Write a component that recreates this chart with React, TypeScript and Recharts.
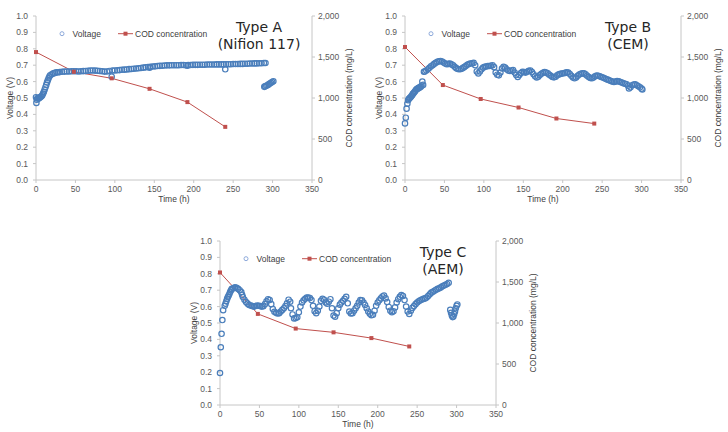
import React from 'react';
import { ComposedChart, Scatter, Line, XAxis, YAxis } from 'recharts';

// axis ticks
const timeTicks = [0, 50, 100, 150, 200, 250, 300, 350];
const voltageTicks = [0, 0.1, 0.2, 0.3, 0.4, 0.5, 0.6, 0.7, 0.8, 0.9, 1.0];
const codTicks = [0, 500, 1000, 1500, 2000];

// COD sampling times (h) and concentrations (mg/L)
const codTimes = [0, 48, 96, 144, 192, 240];
const codA = [1560, 1320, 1240, 1112, 950, 648];
const codB = [1622, 1158, 988, 884, 750, 688];
const codC = [1616, 1111, 932, 886, 816, 714];

// voltage readings [time (h), voltage (V)]
const voltageA: [number, number][] = [
  [0, 0.505], [0.5, 0.47], [1, 0.49], [2, 0.5], [3, 0.495], [4, 0.5], [5, 0.503], [6, 0.507],
  [7, 0.51], [8, 0.517], [9, 0.527], [10, 0.538], [11, 0.552], [12, 0.566], [13, 0.58],
  [14, 0.595], [15, 0.608], [16, 0.62], [17, 0.631], [18, 0.639], [20, 0.645], [22, 0.65],
  [24, 0.653], [26, 0.656], [28, 0.657], [30, 0.658], [33, 0.66], [36, 0.661], [39, 0.662],
  [42, 0.662], [45, 0.663], [48, 0.663], [51, 0.663], [54, 0.662], [57, 0.663], [60, 0.664],
  [63, 0.665], [66, 0.666], [69, 0.668], [72, 0.668], [75, 0.667], [78, 0.666], [81, 0.665],
  [84, 0.663], [87, 0.661], [90, 0.662], [93, 0.665], [96, 0.63], [97, 0.667], [100, 0.668],
  [103, 0.669], [106, 0.67], [109, 0.672], [112, 0.673], [115, 0.674], [118, 0.676],
  [121, 0.677], [124, 0.678], [127, 0.68], [130, 0.681], [133, 0.683], [136, 0.685],
  [139, 0.687], [142, 0.689], [144, 0.685], [145, 0.69], [148, 0.692], [151, 0.693],
  [154, 0.695], [157, 0.696], [160, 0.697], [163, 0.698], [166, 0.699], [169, 0.699],
  [172, 0.7], [175, 0.7], [178, 0.7], [181, 0.7], [184, 0.701], [187, 0.701], [190, 0.7],
  [192, 0.697], [193, 0.701], [196, 0.701], [199, 0.702], [202, 0.702], [205, 0.702],
  [208, 0.703], [211, 0.703], [214, 0.703], [217, 0.704], [220, 0.704], [223, 0.704],
  [226, 0.704], [229, 0.705], [232, 0.705], [235, 0.705], [238, 0.705], [240, 0.675],
  [241, 0.706], [244, 0.706], [247, 0.706], [250, 0.707], [253, 0.707], [256, 0.707],
  [259, 0.708], [262, 0.708], [265, 0.709], [268, 0.709], [271, 0.71], [274, 0.71],
  [277, 0.711], [280, 0.711], [283, 0.712], [286, 0.712], [289, 0.713], [291, 0.713],
  [289.5, 0.568], [290.5, 0.571], [292, 0.574], [293.5, 0.578], [295, 0.583], [296.5, 0.588],
  [298, 0.593], [299.5, 0.598], [301, 0.602],
];

const voltageB: [number, number][] = [
  [0, 0.345], [1, 0.38], [2, 0.435], [3, 0.465], [4, 0.487], [5, 0.495], [6, 0.5], [7, 0.505],
  [8, 0.51], [9, 0.517], [10, 0.525], [11, 0.53], [12, 0.537], [13, 0.542], [14, 0.55],
  [15, 0.555], [16, 0.557], [17, 0.56], [18, 0.563], [19, 0.565], [20, 0.568], [21, 0.575],
  [22, 0.6], [23, 0.58], [24, 0.66], [25, 0.662], [27, 0.668], [29, 0.675], [31, 0.684],
  [33, 0.693], [35, 0.7], [37, 0.708], [39, 0.715], [41, 0.72], [43, 0.724], [45, 0.726],
  [47, 0.722], [49, 0.716], [51, 0.71], [53, 0.706], [55, 0.708], [57, 0.71], [59, 0.705],
  [61, 0.7], [63, 0.69], [65, 0.682], [67, 0.677], [69, 0.675], [71, 0.677], [73, 0.682],
  [75, 0.688], [77, 0.695], [79, 0.702], [81, 0.707], [83, 0.71], [85, 0.712], [87, 0.714],
  [89, 0.7], [91, 0.662], [93, 0.65], [95, 0.662], [97, 0.675], [99, 0.685], [101, 0.69],
  [103, 0.692], [105, 0.695], [107, 0.695], [109, 0.697], [111, 0.7], [113, 0.688],
  [115, 0.655], [117, 0.642], [119, 0.638], [121, 0.655], [123, 0.68], [125, 0.69],
  [127, 0.685], [129, 0.675], [131, 0.668], [133, 0.665], [135, 0.668], [137, 0.67],
  [139, 0.655], [141, 0.64], [143, 0.628], [145, 0.64], [147, 0.652], [149, 0.66],
  [151, 0.658], [153, 0.655], [155, 0.66], [157, 0.666], [159, 0.668], [161, 0.658],
  [163, 0.645], [165, 0.632], [167, 0.625], [169, 0.63], [171, 0.64], [173, 0.648],
  [175, 0.654], [177, 0.658], [179, 0.655], [181, 0.65], [183, 0.642], [185, 0.635],
  [187, 0.628], [189, 0.626], [191, 0.63], [193, 0.638], [195, 0.644], [197, 0.647],
  [199, 0.649], [201, 0.651], [203, 0.653], [205, 0.656], [207, 0.655], [209, 0.646],
  [211, 0.635], [213, 0.625], [215, 0.62], [217, 0.625], [219, 0.635], [221, 0.643],
  [223, 0.648], [225, 0.651], [227, 0.65], [229, 0.644], [231, 0.636], [233, 0.628],
  [235, 0.622], [237, 0.62], [239, 0.625], [241, 0.632], [243, 0.637], [245, 0.636],
  [247, 0.632], [249, 0.628], [251, 0.625], [253, 0.62], [255, 0.616], [257, 0.612],
  [259, 0.608], [261, 0.604], [263, 0.6], [265, 0.598], [267, 0.6], [269, 0.603],
  [271, 0.602], [273, 0.598], [275, 0.594], [277, 0.59], [279, 0.587], [281, 0.584],
  [283, 0.575], [284, 0.558], [286, 0.565], [288, 0.578], [290, 0.582], [292, 0.583],
  [294, 0.578], [296, 0.572], [298, 0.565], [300, 0.557], [301, 0.552],
];

const voltageC: [number, number][] = [
  [0, 0.195], [1, 0.352], [2, 0.434], [3, 0.518], [4, 0.578], [6, 0.605], [7, 0.618],
  [8, 0.632], [9, 0.647], [10, 0.658], [11, 0.668], [12, 0.678], [13, 0.69], [14, 0.7],
  [15, 0.708], [17, 0.712], [19, 0.718], [21, 0.715], [23, 0.708], [25, 0.7], [27, 0.688],
  [28, 0.672], [29, 0.658], [31, 0.642], [33, 0.628], [35, 0.618], [37, 0.61], [39, 0.606],
  [41, 0.603], [43, 0.6], [45, 0.604], [47, 0.607], [49, 0.605], [51, 0.603], [53, 0.6],
  [55, 0.602], [57, 0.615], [59, 0.632], [61, 0.645], [63, 0.64], [65, 0.615], [67, 0.585],
  [69, 0.568], [71, 0.562], [73, 0.558], [75, 0.56], [77, 0.57], [79, 0.58], [81, 0.59],
  [83, 0.603], [85, 0.62], [87, 0.642], [89, 0.63], [90, 0.59], [92, 0.552], [94, 0.528],
  [96, 0.53], [98, 0.535], [100, 0.565], [102, 0.6], [104, 0.625], [106, 0.638],
  [108, 0.648], [110, 0.655], [112, 0.655], [114, 0.652], [116, 0.64], [118, 0.605],
  [120, 0.572], [122, 0.56], [124, 0.575], [126, 0.6], [128, 0.635], [130, 0.648],
  [132, 0.642], [134, 0.625], [136, 0.618], [138, 0.63], [140, 0.645], [142, 0.59],
  [144, 0.545], [146, 0.538], [148, 0.56], [150, 0.59], [152, 0.612], [154, 0.625],
  [156, 0.635], [158, 0.648], [160, 0.66], [162, 0.62], [164, 0.57], [166, 0.558],
  [168, 0.56], [170, 0.575], [172, 0.59], [174, 0.605], [176, 0.625], [178, 0.64],
  [180, 0.638], [182, 0.625], [184, 0.61], [186, 0.59], [188, 0.57], [190, 0.556],
  [192, 0.548], [194, 0.55], [196, 0.575], [198, 0.605], [200, 0.625], [202, 0.638],
  [204, 0.65], [206, 0.662], [208, 0.667], [210, 0.65], [212, 0.628], [214, 0.598],
  [216, 0.575], [218, 0.566], [220, 0.572], [222, 0.595], [224, 0.625], [226, 0.645],
  [228, 0.66], [230, 0.67], [232, 0.665], [234, 0.64], [236, 0.6], [238, 0.57],
  [240, 0.555], [242, 0.575], [244, 0.592], [246, 0.603], [248, 0.615], [250, 0.625],
  [252, 0.632], [254, 0.638], [256, 0.643], [258, 0.647], [260, 0.65], [262, 0.655],
  [264, 0.665], [266, 0.675], [268, 0.685], [270, 0.69], [272, 0.697], [274, 0.703],
  [276, 0.708], [278, 0.712], [280, 0.717], [282, 0.724], [284, 0.728], [286, 0.733],
  [288, 0.738], [290, 0.745], [292, 0.58], [293, 0.562], [294, 0.546], [295, 0.536],
  [296, 0.54], [297, 0.555], [298, 0.57], [299, 0.59], [300, 0.605], [301, 0.613],
];

const FONT = '"Liberation Sans", Arial, sans-serif';
const TITLE_FONT = '"DejaVu Sans", sans-serif';
const AXIS_COLOR = '#c6c6c6';
const TICK_COLOR = '#595959';
const VOLT_COLOR = '#4a7ebb';
const COD_COLOR = '#c0504d';

const tickStyle = { fill: TICK_COLOR, fontSize: 8.5, fontFamily: FONT };

interface PanelProps {
  voltage: [number, number][];
  cod: number[];
  title: string;
  subtitle: string;
}

function Panel({ voltage, cod, title, subtitle }: PanelProps) {
  const voltData = voltage.map(([t, v]) => ({ t, v }));
  const codData = codTimes.map((t, i) => ({ t, cod: cod[i] }));

  return (
    <div style={{ position: 'relative', width: 364, height: 216 }}>
      <ComposedChart width={364} height={216} margin={{ top: 16, right: 0, bottom: 6, left: 0 }}>
        <XAxis
          dataKey="t"
          type="number"
          domain={[0, 350]}
          ticks={timeTicks}
          interval={0}
          height={30}
          stroke={AXIS_COLOR}
          tickSize={3}
          tickMargin={3}
          tick={tickStyle}
          label={{ value: 'Time (h)', position: 'insideBottom', offset: 8, fill: '#404040', fontSize: 8.5, fontFamily: FONT }}
        />
        <YAxis
          yAxisId="left"
          domain={[0, 1]}
          ticks={voltageTicks}
          interval={0}
          width={36}
          stroke={AXIS_COLOR}
          tickSize={3}
          tickMargin={5}
          tick={tickStyle}
          tickFormatter={(v: number) => v.toFixed(1)}
          label={{ value: 'Voltage (V)', angle: -90, position: 'insideLeft', offset: 10, fill: '#404040', fontSize: 8.5, fontFamily: FONT, style: { textAnchor: 'middle' } }}
        />
        <YAxis
          yAxisId="right"
          orientation="right"
          domain={[0, 2000]}
          ticks={codTicks}
          interval={0}
          width={52}
          stroke={AXIS_COLOR}
          tickSize={3}
          tickMargin={3}
          tick={tickStyle}
          tickFormatter={(v: number) => v.toLocaleString('en-US')}
          label={{ value: 'COD concentration (mg/L)', angle: -90, position: 'insideRight', offset: 15, fill: '#404040', fontSize: 8.5, fontFamily: FONT, style: { textAnchor: 'middle' } }}
        />
        <Scatter
          yAxisId="left"
          data={voltData}
          dataKey="v"
          isAnimationActive={false}
          shape={(p: any) => (
            <circle cx={p.cx} cy={p.cy} r={2.7} fill="none" stroke={VOLT_COLOR} strokeWidth={1.2} />
          )}
        />
        <Line
          yAxisId="right"
          data={codData}
          dataKey="cod"
          stroke={COD_COLOR}
          strokeWidth={1}
          isAnimationActive={false}
          activeDot={false}
          dot={(p: any) => (
            <rect key={`sq-${p.index}`} x={p.cx - 2} y={p.cy - 2} width={4} height={4} fill={COD_COLOR} />
          )}
        />
      </ComposedChart>

      <svg
        width={364}
        height={216}
        style={{ position: 'absolute', left: 0, top: 0, pointerEvents: 'none' }}
      >
        <circle cx={62} cy={33.7} r={2} fill="none" stroke="#8eaadb" strokeWidth={1} />
        <text x={72.5} y={36.7} fontSize={8.5} fontFamily={FONT} fill="#404040">Voltage</text>
        <line x1={118} x2={133} y1={33.7} y2={33.7} stroke={COD_COLOR} strokeWidth={1} />
        <rect x={123.5} y={31.7} width={4} height={4} fill={COD_COLOR} />
        <text x={135} y={36.7} fontSize={8.5} fontFamily={FONT} fill="#404040">COD concentration</text>
        <text x={259} y={31.5} fontSize={14} fontFamily={TITLE_FONT} fill="#262626" textAnchor="middle">{title}</text>
        <text x={259} y={48.5} fontSize={14} fontFamily={TITLE_FONT} fill="#262626" textAnchor="middle">{subtitle}</text>
      </svg>
    </div>
  );
}

export default function App() {
  return (
    <div style={{ position: 'absolute', left: 0, top: 0, width: 728, height: 432, overflow: 'hidden', background: '#fff' }}>
      <div style={{ position: 'absolute', left: 0, top: 0 }}>
        <Panel voltage={voltageA} cod={codA} title="Type A" subtitle="(Nifion 117)" />
      </div>
      <div style={{ position: 'absolute', left: 369, top: 0 }}>
        <Panel voltage={voltageB} cod={codB} title="Type B" subtitle="(CEM)" />
      </div>
      <div style={{ position: 'absolute', left: 184, top: 224.5 }}>
        <Panel voltage={voltageC} cod={codC} title="Type C" subtitle="(AEM)" />
      </div>
    </div>
  );
}
